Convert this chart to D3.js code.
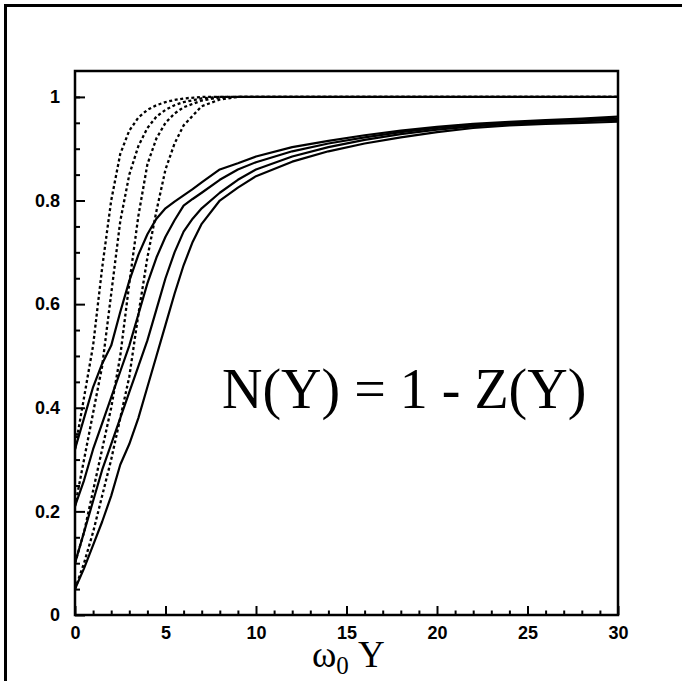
<!DOCTYPE html>
<html>
<head>
<meta charset="utf-8">
<script src="https://cdn.jsdelivr.net/npm/d3@7"></script>
<style>
  html, body { margin: 0; padding: 0; background: #fff; }
  svg { display: block; }
</style>
</head>
<body>
<svg id="chart" width="682" height="681"></svg>
<script>
// ---- data ----
const dottedX = [0, 0.5, 1, 1.5, 2, 2.5, 3, 3.5, 4, 4.5, 5, 5.5, 6, 7, 8, 9, 10, 15, 20, 25, 30];
const dotted1 = [0.32, 0.42, 0.52, 0.67, 0.80, 0.89, 0.935, 0.96, 0.975, 0.984, 0.99, 0.994, 0.997, 1, 1, 1, 1, 1, 1, 1, 1];
const dotted2 = [0.21, 0.30, 0.39, 0.48, 0.62, 0.76, 0.85, 0.905, 0.94, 0.962, 0.975, 0.984, 0.99, 0.997, 1, 1, 1, 1, 1, 1, 1];
const dotted3 = [0.10, 0.16, 0.24, 0.32, 0.40, 0.50, 0.64, 0.77, 0.87, 0.92, 0.95, 0.968, 0.98, 0.993, 0.999, 1, 1, 1, 1, 1, 1];
const dotted4 = [0.05, 0.10, 0.16, 0.23, 0.30, 0.38, 0.46, 0.58, 0.69, 0.78, 0.86, 0.91, 0.945, 0.982, 0.995, 1, 1, 1, 1, 1, 1];

const solidX = [0, 0.5, 1, 1.5, 2, 2.5, 3, 3.5, 4, 4.5, 5, 5.5, 6, 6.5, 7, 8, 9, 10, 12, 14, 16, 18, 20, 22, 24, 26, 28, 30];
const solid1 = [0.32, 0.38, 0.44, 0.485, 0.52, 0.585, 0.645, 0.695, 0.735, 0.765, 0.785, 0.798, 0.81, 0.822, 0.835, 0.86, 0.872, 0.885, 0.903, 0.915, 0.926, 0.935, 0.942, 0.948, 0.952, 0.955, 0.958, 0.962];
const solid2 = [0.21, 0.26, 0.32, 0.37, 0.42, 0.47, 0.52, 0.58, 0.64, 0.69, 0.73, 0.762, 0.79, 0.803, 0.815, 0.84, 0.86, 0.874, 0.895, 0.91, 0.922, 0.932, 0.94, 0.946, 0.95, 0.953, 0.956, 0.958];
const solid3 = [0.10, 0.16, 0.22, 0.28, 0.33, 0.38, 0.43, 0.48, 0.53, 0.59, 0.65, 0.70, 0.74, 0.765, 0.785, 0.815, 0.84, 0.86, 0.885, 0.903, 0.917, 0.928, 0.937, 0.943, 0.948, 0.951, 0.953, 0.955];
const solid4 = [0.05, 0.09, 0.135, 0.18, 0.23, 0.29, 0.33, 0.38, 0.44, 0.50, 0.56, 0.62, 0.675, 0.72, 0.755, 0.80, 0.825, 0.847, 0.875, 0.895, 0.91, 0.922, 0.932, 0.94, 0.945, 0.948, 0.95, 0.952];

const xMajorTicks = [0, 5, 10, 15, 20, 25, 30];
const xTickLabels = ["0", "5", "10", "15", "20", "25", "30"];
const yMajorTicks = [0, 0.2, 0.4, 0.6, 0.8, 1];
const yTickLabels = ["0", "0.2", "0.4", "0.6", "0.8", "1"];
const xMinorTicks = d3.range(0, 31, 1).filter(v => v % 5 !== 0);
const yMinorTicks = [0.05, 0.1, 0.15, 0.25, 0.3, 0.35, 0.45, 0.5, 0.55, 0.65, 0.7, 0.75, 0.85, 0.9, 0.95, 1.0];

const xDomain = [0, 30];
const yDomain = [0, 1.05];

// ---- layout ----
const frame = { left: 75, right: 618, top: 71, bottom: 615 };
const svg = d3.select("#chart");

// outer border
svg.append("rect")
  .attr("x", 5.5).attr("y", 5.5)
  .attr("width", 720).attr("height", 720)
  .attr("fill", "none").attr("stroke", "#000").attr("stroke-width", 3);

const x = d3.scaleLinear().domain(xDomain).range([frame.left, frame.right]);
const y = d3.scaleLinear().domain(yDomain).range([frame.bottom, frame.top]);

const tickFont = "'Liberation Sans', Arial, Helvetica, sans-serif";

// minor ticks
svg.append("g")
  .attr("transform", `translate(0,${frame.bottom})`)
  .call(d3.axisBottom(x).tickValues(xMinorTicks).tickSizeInner(-4.5).tickSizeOuter(0).tickFormat(""))
  .call(g => g.select(".domain").remove())
  .call(g => g.selectAll("line").attr("stroke-width", 2));

svg.append("g")
  .attr("transform", `translate(${frame.left},0)`)
  .call(d3.axisLeft(y).tickValues(yMinorTicks).tickSizeInner(-5).tickSizeOuter(0).tickFormat(""))
  .call(g => g.select(".domain").remove())
  .call(g => g.selectAll("line").attr("stroke-width", 2));

// major ticks + labels
svg.append("g")
  .attr("transform", `translate(0,${frame.bottom})`)
  .call(d3.axisBottom(x).tickValues(xMajorTicks).tickSizeInner(-9).tickSizeOuter(0).tickPadding(11)
        .tickFormat((d, i) => xTickLabels[i]))
  .call(g => g.select(".domain").remove())
  .call(g => g.selectAll("line").attr("stroke-width", 2))
  .call(g => g.selectAll("text")
        .attr("font-family", tickFont).attr("font-weight", "bold")
        .attr("font-size", 18).attr("fill", "#000"));

svg.append("g")
  .attr("transform", `translate(${frame.left},0)`)
  .call(d3.axisLeft(y).tickValues(yMajorTicks).tickSizeInner(-10).tickSizeOuter(0).tickPadding(15)
        .tickFormat((d, i) => yTickLabels[i]))
  .call(g => g.select(".domain").remove())
  .call(g => g.selectAll("line").attr("stroke-width", 2))
  .call(g => g.selectAll("text")
        .attr("font-family", tickFont).attr("font-weight", "bold")
        .attr("font-size", 18).attr("fill", "#000"));

// curves
svg.append("clipPath").attr("id", "plotclip")
  .append("rect")
  .attr("x", frame.left).attr("y", frame.top)
  .attr("width", frame.right - frame.left).attr("height", frame.bottom - frame.top);

const line = d3.line().x(d => x(d[0])).y(d => y(d[1]));
const curves = svg.append("g").attr("clip-path", "url(#plotclip)");

[dotted1, dotted2, dotted3, dotted4].forEach(series => {
  curves.append("path")
    .datum(dottedX.map((xv, i) => [xv, series[i]]))
    .attr("d", line)
    .attr("fill", "none").attr("stroke", "#000")
    .attr("stroke-width", 2.3)
    .attr("stroke-dasharray", "3,2.6");
});

[solid1, solid2, solid3, solid4].forEach(series => {
  curves.append("path")
    .datum(solidX.map((xv, i) => [xv, series[i]]))
    .attr("d", line)
    .attr("fill", "none").attr("stroke", "#000")
    .attr("stroke-width", 2.2)
    .attr("stroke-linejoin", "round");
});

// frame
svg.append("rect")
  .attr("x", frame.left).attr("y", frame.top)
  .attr("width", frame.right - frame.left).attr("height", frame.bottom - frame.top)
  .attr("fill", "none").attr("stroke", "#000").attr("stroke-width", 2.5);

// axis title  ω0 Y
const serif = "'Liberation Serif', 'Times New Roman', Times, serif";
const title = svg.append("text")
  .attr("x", 312).attr("y", 667)
  .attr("font-family", serif).attr("font-size", 37).attr("fill", "#000");
title.append("tspan").text("ω");
title.append("tspan").attr("font-size", 25).attr("dy", 7).text("0");
title.append("tspan").attr("dy", -7).text(" Y");

// annotation
svg.append("text")
  .attr("x", 222).attr("y", 408)
  .attr("font-family", serif).attr("font-size", 56).attr("fill", "#000")
  .text("N(Y) = 1 - Z(Y)");
</script>
</body>
</html>
